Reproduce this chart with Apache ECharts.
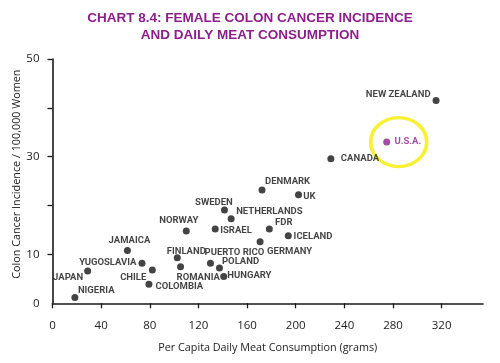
<!DOCTYPE html>
<html>
<head>
<meta charset="utf-8">
<script src="https://cdn.jsdelivr.net/npm/echarts@6/dist/echarts.min.js"></script>
<style>
html,body{margin:0;padding:0;background:#fff;}
#chart{width:500px;height:363px;}
</style>
</head>
<body>
<div id="chart"></div>
<script>
// ---- Data ----
const countries = ['NIGERIA','JAPAN','YUGOSLAVIA','JAMAICA','CHILE','COLOMBIA','NORWAY','FINLAND','ROMANIA','PUERTO RICO','POLAND','HUNGARY','SWEDEN','NETHERLANDS','ISRAEL','DENMARK','UK','FDR','ICELAND','GERMANY','CANADA','U.S.A.','NEW ZEALAND'];
const meatGrams = [18.4, 28.9, 73.6, 61.6, 82.1, 79.3, 110, 102.6, 105.3, 129.9, 137.3, 140.8, 141.4, 146.9, 133.8, 172.3, 202.3, 178.3, 193.9, 170.7, 228.9, 274.8, 315.4];
const incidence = [1.2, 6.6, 8.2, 10.8, 6.8, 3.9, 14.8, 9.3, 7.5, 8.2, 7.2, 5.5, 19.1, 17.3, 15.2, 23.2, 22.2, 15.2, 13.8, 12.6, 29.6, 33.0, 41.5];
const highlighted = 'U.S.A.';
const xTicks = [0, 40, 80, 120, 160, 200, 240, 280, 320];
const yTicks = [10, 20, 30, 40, 50];
const yLabels = [0, 10, 30, 50];

// ---- Presentation: label placement per point [position, dx, dy] ----
const labelPlace = {
  'NIGERIA': ['right', -5.5, -7],
  'JAPAN': ['left', 4, 7],
  'YUGOSLAVIA': ['left', 3, -0.5],
  'JAMAICA': ['top', 2, 4],
  'CHILE': ['left', 2.5, 8],
  'COLOMBIA': ['right', -2, 2.5],
  'NORWAY': ['top', -7.5, 3],
  'FINLAND': ['top', 9, 7],
  'ROMANIA': ['right', -12.5, 10.5],
  'PUERTO RICO': ['top', 24, 3],
  'POLAND': ['right', -6, -6.5],
  'HUNGARY': ['right', -5, -1],
  'SWEDEN': ['top', -10.5, 6],
  'NETHERLANDS': ['right', -3.5, -7],
  'ISRAEL': ['right', -3.5, 1.4],
  'DENMARK': ['right', -5.5, -8],
  'UK': ['right', -3.8, 1.7],
  'FDR': ['right', -2.8, -6],
  'ICELAND': ['right', -3.2, 0.7],
  'GERMANY': ['right', -1.5, 9.8],
  'CANADA': ['right', 1.5, 0],
  'U.S.A.': ['right', -0.8, -0.8],
  'NEW ZEALAND': ['left', 3, -6]
};

const purple = '#8c1f8c';
const points = countries.map((c, i) => {
  const p = labelPlace[c];
  const hi = c === highlighted;
  return {
    name: c,
    value: [meatGrams[i], incidence[i]],
    itemStyle: { color: hi ? purple : '#151515' },
    label: {
      show: true,
      formatter: c,
      position: p[0],
      color: hi ? purple : '#151515'
    }
  };
});
const hiIdx = countries.indexOf(highlighted);

const chart = echarts.init(document.getElementById('chart'), null, { renderer: 'canvas' });
const axisFont = '"Open Sans", sans-serif';
chart.setOption({
  animation: false,
  title: {
    text: 'CHART 8.4: FEMALE COLON CANCER INCIDENCE\nAND DAILY MEAT CONSUMPTION',
    left: 'center',
    top: 9.5,
    padding: [0, 8, 0, 0],
    textStyle: {
      color: purple,
      fontFamily: '"Liberation Sans", Arial, sans-serif',
      fontWeight: 'bold',
      fontSize: 13.5,
      lineHeight: 17
    }
  },
  grid: { left: 52.5, right: 17, top: 59, bottom: 59.7, containLabel: false, outerBoundsMode: 'none' },
  xAxis: {
    type: 'value',
    min: 0,
    max: 354,
    name: 'Per Capita Daily Meat Consumption (grams)',
    nameLocation: 'middle',
    nameGap: 39,
    nameMoveOverlap: false,
    nameTextStyle: { fontFamily: axisFont, fontSize: 10.8, color: '#222' },
    axisLine: { show: true, lineStyle: { color: '#1a1a1a', width: 1.6 } },
    axisTick: { show: true, customValues: xTicks, length: 5, lineStyle: { color: '#1a1a1a', width: 1.3 } },
    axisLabel: { customValues: xTicks, margin: 16, fontFamily: axisFont, fontSize: 11.5, color: '#222' },
    splitLine: { show: false }
  },
  yAxis: {
    type: 'value',
    min: 0,
    max: 50,
    name: 'Colon Cancer Incidence / 100,000 Women',
    nameLocation: 'middle',
    nameGap: 30,
    nameRotate: 90,
    nameMoveOverlap: false,
    nameTextStyle: { fontFamily: axisFont, fontSize: 10.8, color: '#222', padding: [0, 0, 0, 14] },
    axisLine: { show: true, lineStyle: { color: '#1a1a1a', width: 1.6 } },
    axisTick: { show: true, customValues: yTicks, length: 5, lineStyle: { color: '#1a1a1a', width: 1.3 } },
    axisLabel: { customValues: yLabels, margin: 13, fontFamily: axisFont, fontSize: 11.5, color: '#222' },
    splitLine: { show: false }
  },
  series: [
    {
      type: 'scatter',
      name: 'highlight',
      silent: true,
      z: 1,
      data: [[meatGrams[hiIdx], incidence[hiIdx]]],
      symbol: 'circle',
      symbolSize: [56, 49],
      symbolOffset: [12, 0],
      itemStyle: { color: 'rgba(0,0,0,0)', borderColor: '#f6ee00', borderWidth: 3.5 },
      label: { show: false }
    },
    {
      type: 'scatter',
      name: 'countries',
      z: 3,
      symbol: 'circle',
      symbolSize: 7,
      data: points,
      label: {
        fontFamily: 'Roboto, sans-serif',
        fontWeight: 'bold',
        fontSize: 9.5,
        distance: 5
      },
      labelLayout: function (params) {
        const p = labelPlace[countries[params.dataIndex]];
        return { dx: p[1], dy: p[2], hideOverlap: false };
      }
    }
  ]
});
</script>
</body>
</html>
